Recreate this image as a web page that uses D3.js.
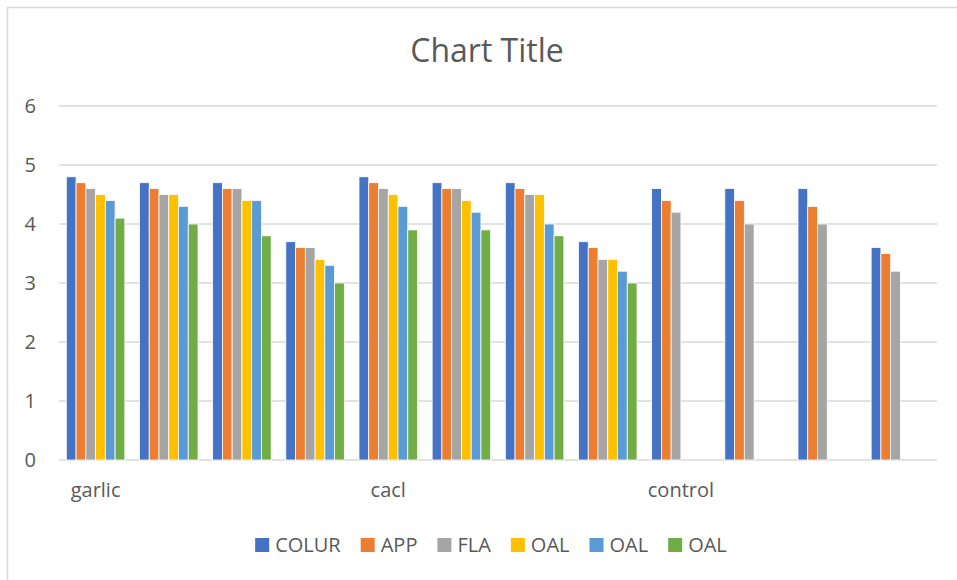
<!DOCTYPE html>
<html>
<head>
<meta charset="utf-8">
<script src="https://cdn.jsdelivr.net/npm/d3@7"></script>
<style>
  body { margin: 0; background: #fff; }
  text { font-family: "Open Sans", "Liberation Sans", sans-serif; fill: #595959; }
</style>
</head>
<body>
<script>
// category labels (only every fourth group is labelled)
var categories = ["garlic", "", "", "", "cacl", "", "", "", "control", "", "", ""];

// series values, one per group
var colur = [4.8, 4.7, 4.7, 3.7, 4.8, 4.7, 4.7, 3.7, 4.6, 4.6, 4.6, 3.6];
var app   = [4.7, 4.6, 4.6, 3.6, 4.7, 4.6, 4.6, 3.6, 4.4, 4.4, 4.3, 3.5];
var fla   = [4.6, 4.5, 4.6, 3.6, 4.6, 4.6, 4.5, 3.4, 4.2, 4.0, 4.0, 3.2];
var oal1  = [4.5, 4.5, 4.4, 3.4, 4.5, 4.4, 4.5, 3.4, null, null, null, null];
var oal2  = [4.4, 4.3, 4.4, 3.3, 4.3, 4.2, 4.0, 3.2, null, null, null, null];
var oal3  = [4.1, 4.0, 3.8, 3.0, 3.9, 3.9, 3.8, 3.0, null, null, null, null];

var seriesNames = ["COLUR", "APP", "FLA", "OAL", "OAL", "OAL"];
var yTicks = [0, 1, 2, 3, 4, 5, 6];

var seriesValues = [colur, app, fla, oal1, oal2, oal3];
var colors = ["#4472C4", "#ED7D31", "#A5A5A5", "#FFC000", "#5B9BD5", "#70AD47"];

var width = 957, height = 580;
var plotLeft = 59, plotRight = 937, plotTop = 106, plotBottom = 460;

var svg = d3.select("body").append("svg")
    .attr("width", width)
    .attr("height", height);

// chart frame (cropped on the right and bottom)
svg.append("rect")
    .attr("x", 7.5).attr("y", 7.5)
    .attr("width", 1000).attr("height", 1000)
    .attr("fill", "#fff")
    .attr("stroke", "#D9D9D9")
    .attr("stroke-width", 1.5);

svg.append("text")
    .attr("x", 487).attr("y", 62)
    .attr("text-anchor", "middle")
    .style("font-size", "32px")
    .text("Chart Title");

var x0 = d3.scaleBand()
    .domain(d3.range(categories.length))
    .range([plotLeft, plotRight])
    .paddingInner(0.2)
    .paddingOuter(0.1);

var x1 = d3.scaleBand()
    .domain(d3.range(seriesValues.length))
    .range([0, x0.bandwidth()]);

var y = d3.scaleLinear()
    .domain([0, 6])
    .range([plotBottom, plotTop]);

// gridlines
svg.append("g").selectAll("line")
    .data(yTicks)
    .enter().append("line")
    .attr("x1", plotLeft).attr("x2", plotRight)
    .attr("y1", function(d) { return y(d); })
    .attr("y2", function(d) { return y(d); })
    .attr("stroke", "#D9D9D9")
    .attr("stroke-width", 1.3);

// y tick labels
svg.append("g").selectAll("text")
    .data(yTicks)
    .enter().append("text")
    .attr("x", 36)
    .attr("y", function(d) { return y(d); })
    .attr("dy", "0.36em")
    .attr("text-anchor", "end")
    .style("font-size", "20px")
    .text(function(d) { return d; });

// bars
var groups = svg.append("g").selectAll("g")
    .data(categories)
    .enter().append("g")
    .attr("transform", function(d, i) { return "translate(" + x0(i) + ",0)"; });

groups.selectAll("rect")
    .data(function(d, i) {
      return seriesValues.map(function(s, j) { return { s: j, v: s[i] }; })
        .filter(function(e) { return e.v != null; });
    })
    .enter().append("rect")
    .attr("x", function(d) { return x1(d.s); })
    .attr("y", function(d) { return y(d.v); })
    .attr("width", x1.bandwidth())
    .attr("height", function(d) { return plotBottom - y(d.v); })
    .attr("fill", function(d) { return colors[d.s]; })
    .attr("stroke", "#fff")
    .attr("stroke-width", 0.8);

// category labels
svg.append("g").selectAll("text")
    .data(categories)
    .enter().append("text")
    .attr("x", function(d, i) { return x0(i) + x0.bandwidth() / 2; })
    .attr("y", 497)
    .attr("text-anchor", "middle")
    .style("font-size", "20px")
    .text(function(d) { return d; });

// legend
var legend = svg.append("g");
var lx = 0;
var items = legend.selectAll("g")
    .data(seriesNames)
    .enter().append("g");

items.append("rect")
    .attr("width", 14).attr("height", 14)
    .attr("y", 538)
    .attr("fill", function(d, i) { return colors[i]; });

items.append("text")
    .attr("x", 20)
    .attr("y", 545)
    .attr("dy", "0.36em")
    .style("font-size", "20px")
    .text(function(d) { return d; });

items.each(function() {
  var g = d3.select(this);
  g.attr("transform", "translate(" + lx + ",0)");
  lx += 20 + g.select("text").node().getComputedTextLength() + 20;
});
var legendWidth = lx - 20;
legend.attr("transform", "translate(" + (491 - legendWidth / 2) + ",0)");
</script>
</body>
</html>
